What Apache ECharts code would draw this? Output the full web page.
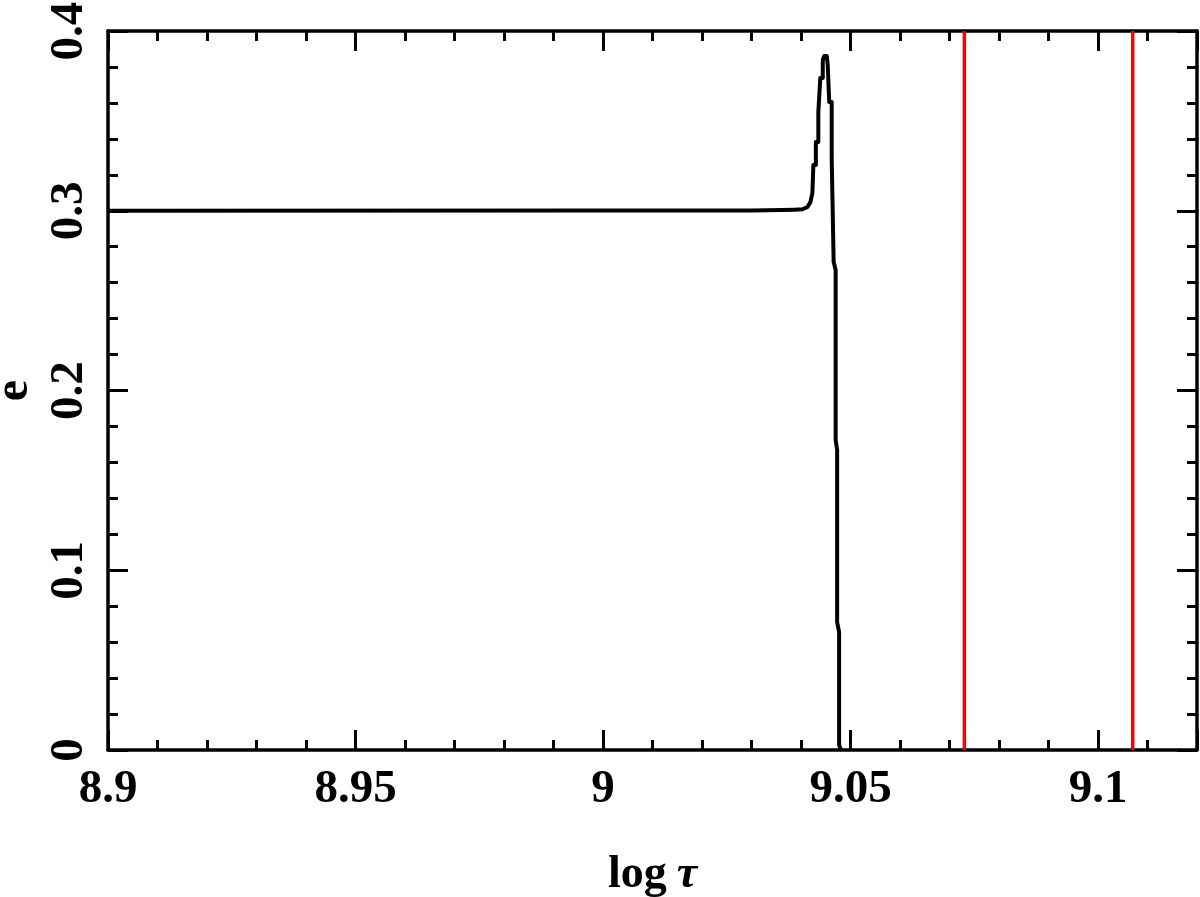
<!DOCTYPE html>
<html>
<head>
<meta charset="utf-8">
<script src="https://cdn.jsdelivr.net/npm/echarts@6/dist/echarts.min.js"></script>
<style>
html,body{margin:0;padding:0;background:#fff;}
#chart{width:1200px;height:897px;}
</style>
</head>
<body>
<div id="chart"></div>
<script>
// ---- data ----
const tauX = [8.9, 9.0, 9.03, 9.036, 9.0386, 9.0403, 9.0413, 9.0419, 9.0423,
  9.0425, 9.0425, 9.0430, 9.0430, 9.0435, 9.0435, 9.0439, 9.0439, 9.0444, 9.0444,
  9.0447, 9.0450, 9.0452, 9.0454, 9.0454, 9.0457, 9.0457, 9.0462, 9.0462,
  9.0466, 9.0466, 9.0470, 9.0470, 9.0473, 9.0473, 9.0477, 9.0477, 9.0481, 9.0481];
const eccY = [0.3000, 0.3001, 0.3002, 0.3004, 0.3006, 0.3008, 0.3021, 0.3048, 0.3099,
  0.3104, 0.3255, 0.3255, 0.3383, 0.3383, 0.3549, 0.3549, 0.3739, 0.3739, 0.3839,
  0.3861, 0.3872, 0.3861, 0.3850, 0.3811, 0.3811, 0.3605, 0.3605, 0.3294,
  0.3289, 0.2715, 0.2670, 0.1725, 0.1669, 0.0712, 0.0656, 0.0028, 0.0017, 0.0];
const redLineX = [9.073, 9.107];
const xTickValues = [8.9, 8.95, 9.0, 9.05, 9.1];
const xTickLabels = ['8.9', '8.95', '9', '9.05', '9.1'];
const yTickValues = [0, 0.1, 0.2, 0.3, 0.4];
const yTickLabels = ['0', '0.1', '0.2', '0.3', '0.4'];
const xRange = [8.9, 9.12];
const yRange = [0, 0.4];

// ---- chart ----
const chart = echarts.init(document.getElementById('chart'), null, {renderer: 'canvas'});
const FONT = 'Liberation Serif';
const gridRect = {left: 108, top: 31, right: 3, bottom: 147, containLabel: false, outerBoundsMode: 'none'};

function labelFor(values, labels) {
  return function (v) {
    for (let i = 0; i < values.length; i++) {
      if (Math.abs(v - values[i]) < 1e-6) return labels[i];
    }
    return '';
  };
}

function xAx(grid, position, interval, tickLen, showLine, showLabel, extra) {
  return Object.assign({
    type: 'value', gridIndex: grid, position: position,
    min: xRange[0], max: xRange[1], interval: interval,
    axisLine: {show: showLine, onZero: false, lineStyle: {color: '#000', width: 3.5}},
    axisTick: {show: true, inside: true, length: tickLen, lineStyle: {color: '#000', width: 3}},
    axisLabel: {show: showLabel, margin: 16, color: '#000', fontFamily: FONT, fontWeight: 'bold', fontSize: 47,
      formatter: labelFor(xTickValues, xTickLabels), showMaxLabel: true, showMinLabel: true},
    splitLine: {show: false}
  }, extra || {});
}
function yAx(grid, position, interval, tickLen, showLine, showLabel, extra) {
  return Object.assign({
    type: 'value', gridIndex: grid, position: position,
    min: yRange[0], max: yRange[1], interval: interval,
    axisLine: {show: showLine, onZero: false, lineStyle: {color: '#000', width: 3.5}},
    axisTick: {show: true, inside: true, length: tickLen, lineStyle: {color: '#000', width: 3}},
    axisLabel: {show: showLabel, margin: 15, rotate: 90, color: '#000', fontFamily: FONT, fontWeight: 'bold', fontSize: 47,
      formatter: labelFor(yTickValues, yTickLabels), showMaxLabel: true, showMinLabel: true},
    splitLine: {show: false}
  }, extra || {});
}

const curveData = tauX.map((x, i) => [x, eccY[i]]);
const series = [{
  type: 'line', xAxisIndex: 0, yAxisIndex: 0, data: curveData,
  showSymbol: false, symbol: 'none', silent: true,
  lineStyle: {color: '#000', width: 4, join: 'round'}, z: 3
}];
redLineX.forEach(x => {
  series.push({
    type: 'line', xAxisIndex: 0, yAxisIndex: 0,
    data: [[x, yRange[0]], [x, yRange[1]]],
    showSymbol: false, symbol: 'none', silent: true,
    lineStyle: {color: '#ff0000', width: 3.5}, z: 2
  });
});

const option = {
  animation: false,
  backgroundColor: '#ffffff',
  grid: [
    Object.assign({}, gridRect),
    Object.assign({}, gridRect)
  ],
  xAxis: [
    xAx(0, 'bottom', 0.05, 20, true, true, {
      name: '{a|log}   {b|τ}', nameLocation: 'middle', nameGap: 102,
      nameTextStyle: {rich: {
        a: {fontFamily: FONT, fontWeight: 'bold', fontSize: 46, color: '#000'},
        b: {fontFamily: FONT, fontWeight: 'bold', fontStyle: 'italic', fontSize: 46, color: '#000'}
      }}
    }),
    xAx(0, 'top', 0.05, 20, true, false),
    xAx(1, 'bottom', 0.01, 10, false, false),
    xAx(1, 'top', 0.01, 10, false, false)
  ],
  yAxis: [
    yAx(0, 'left', 0.1, 20, true, true, {
      name: 'e', nameLocation: 'middle', nameGap: 68, nameRotate: 90,
      nameTextStyle: {fontFamily: FONT, fontWeight: 'bold', fontSize: 48, color: '#000'}
    }),
    yAx(0, 'right', 0.1, 20, true, false),
    yAx(1, 'left', 0.02, 10, false, false),
    yAx(1, 'right', 0.02, 10, false, false)
  ],
  series: series
};
chart.setOption(option);
</script>
</body>
</html>
